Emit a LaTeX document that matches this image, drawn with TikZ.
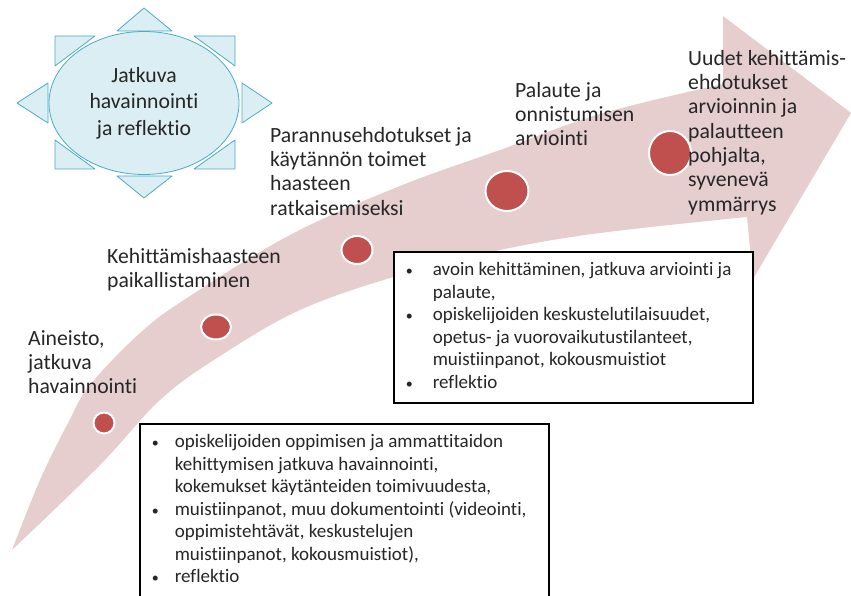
\documentclass[tikz,border=0pt]{standalone}
\usepackage{fontspec}
\setmainfont{Carlito}[Ligatures={NoCommon}]
\usetikzlibrary{shapes.geometric}

\definecolor{bandpink}{RGB}{230,205,206}
\definecolor{dotred}{RGB}{192,80,77}
\definecolor{sunfill}{RGB}{218,238,243}
\definecolor{sunline}{RGB}{75,172,198}
\definecolor{inktext}{RGB}{38,38,38}

\newcommand{\labelsize}{\fontsize{21.7}{24.3}\selectfont}
\newcommand{\sunsize}{\fontsize{21.7}{26.5}\selectfont}
\newcommand{\boxsize}{\fontsize{19}{22.5}\selectfont}
\newcommand{\bul}[1]{\makebox[#1][l]{\hspace*{1pt}{\fontsize{14}{14}\selectfont •}}}

\tikzset{
  stage/.style={anchor=north west, inner sep=0pt, align=left, font=\labelsize, text=inktext},
  dot/.style={ellipse, fill=dotred, draw=white, line width=2pt, inner sep=0pt},
  ray/.style={fill=sunfill, draw=sunline, line width=0.8pt, line join=round},
  sunbody/.style={ellipse, fill=sunfill, draw=sunline, line width=0.8pt, inner sep=0pt,
    align=center, font=\sunsize, text=inktext},
  notebox/.style={draw=black, line width=1.6pt, fill=white, anchor=north west,
    inner xsep=11pt, inner ysep=8pt, text=inktext, font=\boxsize},
}

\begin{document}
\begin{tikzpicture}[x=1pt, y=-1pt]
\useasboundingbox (0,0) rectangle (851,596);

% the sweeping arrow
\fill[bandpink]
  plot[smooth, tension=0.6] coordinates {(12,550) (40,480) (68,423) (90,385) (140,333) (187,298) (290,235) (400,186) (500,150) (600,114) (723,84)}
  -- (723,16) -- (851,113) -- (753,279)
  -- plot[smooth, tension=0.6] coordinates {(747,217) (600,233) (500,250) (400,275) (300,310) (217,358) (160,400) (100,465) (12,550)}
  -- cycle;

% stage markers along the arrow
\node[dot, minimum width=21, minimum height=21] (d1) at (104,423) {};
\node[dot, minimum width=30, minimum height=25] (d2) at (216,327) {};
\node[dot, minimum width=31, minimum height=28] (d3) at (357,250) {};
\node[dot, minimum width=43, minimum height=40] (d4) at (507,191) {};
\node[dot, minimum width=42, minimum height=44] (d5) at (670,153) {};

% sun: rays and body
\draw[ray] (117,31) -- (172,31) -- (144,8) -- cycle;
\draw[ray] (117,176) -- (172,176) -- (144,198) -- cycle;
\draw[ray] (48,83) -- (48,123) -- (17,103) -- cycle;
\draw[ray] (242,83) -- (242,123) -- (272,103) -- cycle;
\draw[ray] (55,36) -- (95,36) -- (55,66) -- cycle;
\draw[ray] (194,36) -- (235,36) -- (235,66) -- cycle;
\draw[ray] (55,140) -- (55,169) -- (95,169) -- cycle;
\draw[ray] (235,140) -- (235,169) -- (194,169) -- cycle;
\node[sunbody, minimum width=190, minimum height=143] (sun) at (144,103)
  {Jatkuva\\havainnointi\\ja reflektio};

% stage labels
\node[stage] (l1) at (28,330) {Aineisto,\\jatkuva\\havainnointi};
\node[stage] (l2) at (107,248) {Kehittämishaasteen\\paikallistaminen};
\node[stage] (l3) at (270,127) {Parannusehdotukset ja\\käytännön toimet\\haasteen\\ratkaisemiseksi};
\node[stage] (l4) at (515,82) {Palaute ja\\onnistumisen\\arviointi};
\node[stage] (l5) at (688,50) {Uudet kehittämis-\\ehdotukset\\arvioinnin ja\\palautteen\\pohjalta,\\syvenevä\\ymmärrys};

% note boxes
\node[notebox] (box2) at (393,251) {\parbox[t][135pt][t]{337pt}{%
  \strut\mbox{\bul{28pt}avoin kehittäminen, jatkuva arviointi ja}\\
  \mbox{\hspace*{28pt}palaute,}\\
  \mbox{\bul{28pt}opiskelijoiden keskustelutilaisuudet,}\\
  \mbox{\hspace*{28pt}opetus- ja vuorovaikutustilanteet,}\\
  \mbox{\hspace*{28pt}muistiinpanot, kokousmuistiot}\\
  \mbox{\bul{28pt}reflektio}}};

\node[notebox] (box1) at (139,423) {\parbox[t][161pt][t]{387pt}{%
  \strut\mbox{\bul{24pt}opiskelijoiden oppimisen ja ammattitaidon}\\
  \mbox{\hspace*{24pt}kehittymisen jatkuva havainnointi,}\\
  \mbox{\hspace*{24pt}kokemukset käytänteiden toimivuudesta,}\\
  \mbox{\bul{24pt}muistiinpanot, muu dokumentointi (videointi,}\\
  \mbox{\hspace*{24pt}oppimistehtävät, keskustelujen}\\
  \mbox{\hspace*{24pt}muistiinpanot, kokousmuistiot),}\\
  \mbox{\bul{24pt}reflektio}}};
\end{tikzpicture}
\end{document}
